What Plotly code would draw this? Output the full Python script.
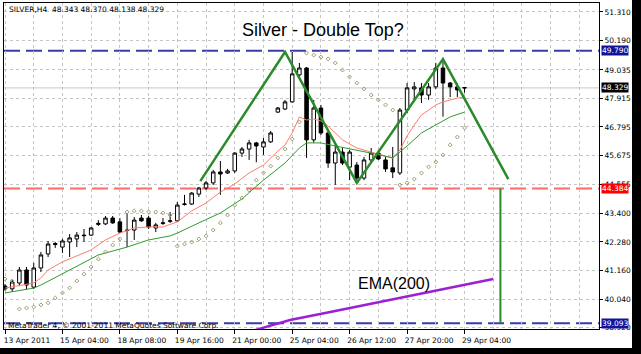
import plotly.graph_objects as go

# ---------------- data ----------------
bars = list(range(65))
opens = [40.55, 40.44, 40.67, 41.18, 40.51, 41.26, 41.81, 42.22, 42.08, 42.28,
         42.40, 42.55, 42.55, 42.97, 42.99, 43.22, 43.07, 42.75, 42.75, 43.22,
         43.22, 42.83, 43.01, 43.09, 43.11, 43.75, 43.77, 44.16, 44.40, 44.60,
         45.03, 44.99, 45.07, 45.77, 45.93, 46.17, 46.01, 46.21, 47.38, 47.50,
         47.78, 48.84, 49.11, 46.29, 47.54, 46.56, 45.38, 45.81, 45.22, 45.30,
         44.79, 45.50, 45.77, 45.50, 45.19, 44.99, 47.46, 48.29, 48.33, 48.05,
         48.37, 49.11, 48.52, 48.37, 48.343]
highs = [40.63, 40.79, 41.30, 41.30, 41.46, 41.89, 42.32, 42.28, 42.40, 42.59,
         42.67, 42.79, 42.87, 43.14, 43.30, 43.30, 43.22, 43.42, 43.26, 43.34,
         43.30, 43.03, 43.22, 43.46, 43.85, 44.13, 44.24, 44.44, 44.68, 45.11,
         45.46, 45.15, 45.81, 46.01, 46.29, 46.21, 46.36, 46.64, 47.58, 47.86,
         49.74, 49.31, 49.15, 47.86, 47.66, 46.60, 46.17, 45.97, 45.89, 45.42,
         45.62, 45.97, 45.89, 45.62, 46.01, 47.54, 48.52, 48.56, 48.52, 48.52,
         49.31, 49.43, 48.56, 48.52, 48.370]
lows = [40.36, 40.32, 40.55, 40.43, 40.43, 41.10, 41.69, 42.05, 41.85, 41.69,
        42.08, 42.28, 42.52, 42.91, 42.95, 42.99, 42.63, 42.08, 42.36, 43.07,
        42.79, 42.67, 42.95, 43.03, 43.07, 43.71, 43.73, 44.05, 44.32, 44.52,
        44.13, 44.95, 44.99, 45.62, 45.50, 45.41, 45.70, 46.17, 47.35, 47.46,
        47.74, 48.76, 45.58, 46.17, 46.48, 45.19, 44.52, 45.30, 44.71, 44.64,
        44.71, 45.42, 45.50, 45.03, 44.79, 44.91, 47.35, 47.78, 47.74, 47.86,
        48.29, 47.20, 47.97, 47.97, 48.138]
closes = [40.44, 40.71, 41.18, 40.59, 41.26, 41.77, 42.20, 42.18, 42.32, 42.44,
          42.55, 42.53, 42.83, 43.01, 43.22, 43.03, 42.67, 42.73, 43.14, 43.11,
          42.87, 42.95, 43.03, 43.11, 43.73, 43.77, 44.20, 44.40, 44.60, 45.03,
          44.95, 45.07, 45.77, 45.93, 46.17, 46.05, 46.21, 46.56, 47.54, 47.78,
          48.88, 49.11, 46.29, 47.54, 46.56, 45.38, 45.81, 45.38, 45.81, 44.79,
          45.50, 45.77, 45.54, 45.15, 45.03, 47.46, 48.33, 48.37, 48.05, 48.37,
          49.11, 48.52, 48.37, 48.25, 48.329]

sar = [40.83, 40.75, 39.65, 39.69, 39.73, 39.81, 39.89, 40.08, 40.28, 40.48,
       40.75, 41.02, 41.30, 41.61, 41.89, 42.16, 42.40, 43.46, 43.50, 43.50,
       43.46, 43.46, 43.42, 43.34, 42.12, 42.20, 42.28, 42.40, 42.52, 42.75,
       43.03, 43.34, 43.73, 44.01, 44.32, 44.71, 44.99, 45.26, 45.58, 45.93,
       46.32, 46.99, 49.70, 49.62, 49.54, 49.47, 49.31, 49.03, 48.76, 48.52,
       48.29, 48.05, 47.86, 47.66, 47.46, 44.52, 44.60, 44.75, 44.99, 45.23,
       45.42, 45.70, 46.09, 46.40, 46.76]

red_ma_x = [0, 4, 5, 6, 8, 10, 12, 14, 16, 18, 20, 22, 24, 26, 28, 30, 32, 34, 36,
            38, 39, 40, 41, 42, 43, 44, 45, 47, 49, 51, 53, 54, 55, 56, 57, 58,
            59, 60, 61, 62, 63, 64]
red_ma = [40.47, 40.67, 40.87, 41.18, 41.50, 41.73, 41.97, 42.36, 42.63, 42.83,
          42.87, 42.87, 43.07, 43.50, 43.81, 44.24, 44.56, 44.99, 45.30, 45.85,
          46.09, 46.56, 47.19, 47.07, 47.11, 47.03, 46.83, 46.29, 45.97, 45.81,
          45.66, 45.58, 45.89, 46.44, 46.87, 47.27, 47.46, 47.66, 47.78, 47.86,
          47.93, 47.97]
green_ma_x = [0, 4, 5, 9, 13, 17, 20, 23, 24, 27, 30, 33, 36, 39, 41, 42, 44, 46,
              49, 51, 54, 56, 58, 60, 62, 64]
green_ma = [40.28, 40.47, 40.59, 41.18, 41.77, 42.08, 42.36, 42.52, 42.63, 43.03,
            43.42, 43.97, 44.71, 45.38, 45.97, 46.17, 46.17, 46.05, 45.89, 45.77,
            45.58, 46.05, 46.56, 46.87, 47.19, 47.38]

pattern_x = [27.2, 39.0, 49.0, 61.0, 70.1]
pattern_y = [44.67, 49.74, 44.60, 49.46, 44.75]
target_x = [69, 69]
target_y = [44.384, 39.093]

ema200_x = [34.8, 39.7, 45.3, 55.0, 68.0]
ema200_y = [38.82, 39.22, 39.53, 40.08, 40.83]

date_ticks = [0, 8, 16, 24, 32, 40, 48, 56, 64]
date_labels = ["13 Apr 2011", "15 Apr 04:00", "18 Apr 08:00", "19 Apr 16:00",
               "21 Apr 00:00", "25 Apr 04:00", "26 Apr 12:00", "27 Apr 20:00",
               "29 Apr 04:00"]
grid_minor = [4, 12, 20, 28, 36, 44, 52, 60, 68, 72, 76, 80]
price_ticks = [38.920, 40.040, 41.160, 42.280, 43.400, 44.555, 45.675, 46.795,
               47.915, 49.035, 50.190, 51.310]
price_labels = [f"{v:.3f}" for v in price_ticks]

level_top = 49.790
level_neck = 44.384
level_target = 39.093
last_price = 48.329

FONT = "DejaVu Sans"
GRID = "#c4c4c4"

fig = go.Figure()

fig.add_trace(go.Scatter(x=red_ma_x, y=red_ma, mode="lines",
                         line=dict(color="#ff7b6b", width=1), hoverinfo="skip"))
fig.add_trace(go.Scatter(x=green_ma_x, y=green_ma, mode="lines",
                         line=dict(color="#2f9a2f", width=1), hoverinfo="skip"))
fig.add_trace(go.Scatter(x=bars, y=sar, mode="markers",
                         marker=dict(symbol="diamond-open", size=3, color="#9e9e72",
                                     line=dict(width=1, color="#9e9e72")),
                         hoverinfo="skip"))
fig.add_trace(go.Candlestick(
    x=bars, open=opens, high=highs, low=lows, close=closes,
    increasing=dict(line=dict(color="black", width=1), fillcolor="white"),
    decreasing=dict(line=dict(color="black", width=1), fillcolor="black"),
    whiskerwidth=0, hoverinfo="skip"))
fig.add_trace(go.Scatter(x=pattern_x, y=pattern_y, mode="lines",
                         line=dict(color="#2b8a2b", width=2.5), hoverinfo="skip"))
fig.add_trace(go.Scatter(x=target_x, y=target_y, mode="lines",
                         line=dict(color="#2b8a2b", width=2), hoverinfo="skip"))
fig.add_trace(go.Scatter(x=ema200_x, y=ema200_y, mode="lines",
                         line=dict(color="#9a1fd6", width=2.5), hoverinfo="skip"))

shapes = []
for val, col in [(level_top, "#3b3ba6"), (level_neck, "#ff6b6b"), (level_target, "#3b3ba6")]:
    shapes.append(dict(type="line", xref="paper", x0=0, x1=1, yref="y", y0=val, y1=val,
                       line=dict(color=col, width=2, dash="16px,6px"), layer="below"))
shapes.append(dict(type="line", xref="paper", x0=0, x1=1, yref="y", y0=last_price,
                   y1=last_price, line=dict(color="#c8c8c8", width=1), layer="below"))
# window frame strips (right and bottom)
shapes.append(dict(type="rect", xref="paper", yref="paper", x0=(632 - 4) / 595, x1=1.2,
                   y0=-0.2, y1=1.1, fillcolor="black", line=dict(width=0)))
shapes.append(dict(type="rect", xref="paper", yref="paper", x0=-0.1, x1=1.2,
                   y0=-0.2, y1=(329 - 348) / 326, fillcolor="black", line=dict(width=0)))

annotations = [
    dict(text="Silver - Double Top?", x=44.3, y=50.60, xref="x", yref="y",
         showarrow=False, font=dict(family="Liberation Sans", size=18, color="black")),
    dict(text="EMA(200)", x=54.2, y=40.67, xref="x", yref="y",
         showarrow=False, font=dict(family="Liberation Sans", size=16, color="black")),
    dict(text="SILVER,H4  48.343 48.370 48.138 48.329", x=(7 - 4) / 595, y=(329 - 10) / 326,
         xref="paper", yref="paper", xanchor="left", yanchor="middle", showarrow=False,
         font=dict(family=FONT, size=7.5, color="black")),
    dict(text="MetaTrader 4, © 2001-2011 MetaQuotes Software Corp.", x=(6 - 4) / 595,
         y=(329 - 325) / 326, xref="paper", yref="paper", xanchor="left", yanchor="middle",
         showarrow=False, font=dict(family=FONT, size=7.5, color="black")),
]
for val, bg in [(level_top, "#12129a"), (last_price, "black"), (level_neck, "#ff0000"),
                (level_target, "#12129a")]:
    annotations.append(dict(text=f"{val:.3f}", x=(601 - 4) / 595, y=val, xref="paper",
                            yref="y", xanchor="left", yanchor="middle", showarrow=False,
                            bgcolor=bg, borderpad=0,
                            font=dict(family=FONT, size=7.5, color="white")))

fig.update_layout(
    width=641, height=354, margin=dict(l=4, r=42, t=3, b=25),
    paper_bgcolor="white", plot_bgcolor="white", showlegend=False,
    shapes=shapes, annotations=annotations,
    xaxis=dict(range=[-0.14, 82.73], tickmode="array", tickvals=date_ticks,
               ticktext=date_labels, ticks="outside", ticklen=4, tickcolor="black",
               ticklabelshift=22, showgrid=True, gridcolor=GRID, griddash="3px,3px",
               minor=dict(tickvals=grid_minor, showgrid=True, gridcolor=GRID,
                          griddash="3px,3px", ticks=""),
               showline=True, linecolor="black", linewidth=1, mirror=True,
               zeroline=False, rangeslider=dict(visible=False),
               tickfont=dict(family=FONT, size=7.5, color="black")),
    yaxis=dict(side="right", range=[38.864, 51.663], tickmode="array",
               tickvals=price_ticks, ticktext=price_labels, ticks="outside", ticklen=3,
               tickcolor="black", showgrid=True, gridcolor=GRID, griddash="3px,3px",
               showline=True, linecolor="black", linewidth=1, mirror=True,
               zeroline=False, tickfont=dict(family=FONT, size=7.5, color="black")),
)

fig.write_html("out.html")
